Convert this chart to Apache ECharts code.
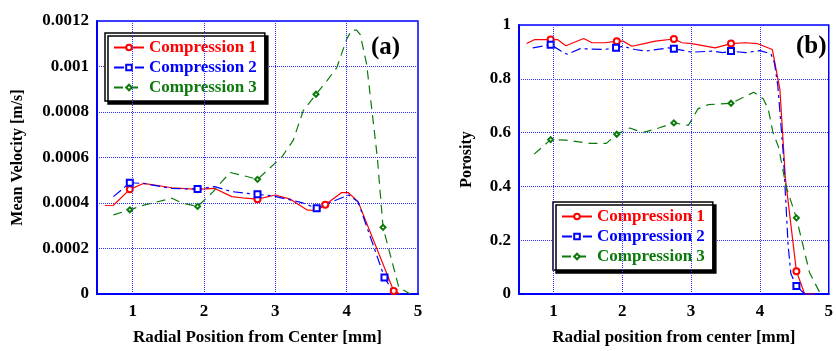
<!DOCTYPE html>
<html>
<head>
<meta charset="utf-8">
<script src="https://cdn.jsdelivr.net/npm/echarts@6/dist/echarts.min.js"></script>
<style>
  html, body { margin: 0; padding: 0; background: #fff; }
  #chart { width: 836px; height: 351px; }
</style>
</head>
<body>
<div id="chart"></div>
<script>
// panel (a): mean velocity vs radial position
const velX1 = [0.61, 0.73, 0.96, 1.15, 1.55, 1.91, 2.15, 2.39, 2.58, 2.75, 3.00, 3.21, 3.44, 3.58, 3.70, 3.93, 4.02, 4.16, 4.66, 4.75]
const velY1 = [0.000389, 0.00039, 0.00046, 0.000486, 0.000467, 0.00046, 0.000464, 0.000428, 0.000421, 0.000417, 0.000435, 0.000417, 0.00037, 0.000366, 0.000392, 0.000446, 0.000446, 0.000406, 0.000013, 0]
const velMark1 = [2, 5, 9, 14, 18]

const velX2 = [0.73, 0.96, 1.15, 1.55, 1.91, 2.15, 2.39, 2.58, 2.75, 2.97, 3.37, 3.58, 3.74, 4.03, 4.16, 4.53, 4.66]
const velY2 = [0.000428, 0.000489, 0.000486, 0.000464, 0.000461, 0.000472, 0.00045, 0.000443, 0.000438, 0.000431, 0.000402, 0.000377, 0.000399, 0.000435, 0.000405, 0.000073, 0.000003]
const velMark2 = [1, 4, 8, 11, 15]

const velX3 = [0.73, 0.96, 1.17, 1.55, 1.69, 1.91, 2.13, 2.25, 2.37, 2.53, 2.75, 3.09, 3.25, 3.39, 3.57, 3.72, 3.86, 4.00, 4.07, 4.14, 4.19, 4.28, 4.43, 4.51, 4.73, 4.89]
const velY3 = [0.000348, 0.00037, 0.000392, 0.000421, 0.0004, 0.000385, 0.00045, 0.000494, 0.000534, 0.000522, 0.000504, 0.000602, 0.000675, 0.000805, 0.000878, 0.000936, 0.000994, 0.00112, 0.00116, 0.00116, 0.00114, 0.00101, 0.0006, 0.000293, 0.00003, 0]
const velMark3 = [1, 5, 10, 14, 23]

// panel (b): porosity vs radial position
const porX1 = [0.61, 0.73, 0.96, 1.06, 1.18, 1.44, 1.56, 1.75, 1.92, 2.01, 2.14, 2.32, 2.48, 2.75, 2.87, 3.01, 3.35, 3.58, 3.79, 3.96, 4.18, 4.29, 4.37, 4.53, 4.65, 4.80]
const porY1 = [0.931, 0.946, 0.946, 0.946, 0.923, 0.95, 0.934, 0.934, 0.94, 0.94, 0.921, 0.931, 0.94, 0.948, 0.934, 0.931, 0.915, 0.931, 0.934, 0.931, 0.909, 0.762, 0.43, 0.085, 0, 0]
const porMark1 = [2, 8, 13, 17, 23]

const porX2 = [0.70, 0.96, 1.11, 1.20, 1.39, 1.73, 1.91, 2.01, 2.18, 2.34, 2.67, 2.75, 3.01, 3.32, 3.46, 3.58, 3.79, 4.00, 4.16, 4.21, 4.26, 4.34, 4.41, 4.45, 4.53, 4.65]
const porY2 = [0.915, 0.927, 0.903, 0.891, 0.912, 0.909, 0.915, 0.921, 0.909, 0.903, 0.915, 0.912, 0.899, 0.903, 0.897, 0.903, 0.897, 0.905, 0.893, 0.86, 0.774, 0.52, 0.18, 0.075, 0.03, 0]
const porMark2 = [1, 6, 11, 15, 24]

const porX3 = [0.72, 0.96, 1.18, 1.54, 1.77, 1.92, 2.11, 2.30, 2.53, 2.75, 2.96, 3.10, 3.25, 3.58, 3.91, 4.05, 4.12, 4.19, 4.27, 4.38, 4.53, 4.72, 4.88]
const porY3 = [0.52, 0.574, 0.572, 0.56, 0.56, 0.594, 0.617, 0.60, 0.617, 0.636, 0.627, 0.688, 0.704, 0.709, 0.75, 0.725, 0.688, 0.60, 0.547, 0.40, 0.283, 0.08, 0]
const porMark3 = [1, 5, 9, 13, 20]

const xTicks = [1, 2, 3, 4]
const names = ['Compression 1', 'Compression 2', 'Compression 3']

const red = '#ff0000'
const blue = '#0000ff'
const green = '#0b7a0b'
const gridBlue = '#2f2fff'
const font = 'Liberation Serif, Times New Roman, serif'

function pts(xs, ys, marks) {
  return xs.map(function(x, i) {
    const item = { value: [x, ys[i]] }
    if (marks.indexOf(i) < 0) item.symbol = 'none'
    return item
  })
}

function xAxisFor(idx, title) {
  return {
    type: 'value',
    gridIndex: idx,
    min: 0.5,
    max: 5,
    interval: 0.5,
    name: title,
    nameLocation: 'middle',
    nameGap: 35,
    nameTextStyle: { fontFamily: font, fontWeight: 'bold', fontSize: 17, color: '#000' },
    axisLine: { lineStyle: { color: blue, width: 2 } },
    axisTick: { show: false },
    splitLine: { show: false },
    axisLabel: {
      margin: 9,
      fontFamily: font, fontWeight: 'bold', fontSize: 17, color: '#000',
      formatter: function(v) { return Number.isInteger(v) ? String(v) : '' }
    }
  }
}

function yAxisFor(idx, title, max, step, gap) {
  return {
    type: 'value',
    gridIndex: idx,
    min: 0,
    max: max,
    interval: step,
    name: title,
    nameLocation: 'middle',
    nameGap: gap,
    nameTextStyle: { fontFamily: font, fontWeight: 'bold', fontSize: 16, color: '#000' },
    axisLine: { show: true, lineStyle: { color: blue, width: 2 } },
    axisTick: { show: false },
    splitLine: { lineStyle: { color: gridBlue, type: 'dotted', width: 1 } },
    axisLabel: { margin: 8, fontFamily: font, fontWeight: 'bold', fontSize: 17, color: '#000' }
  }
}

function vLines() {
  return {
    silent: true,
    symbol: ['none', 'none'],
    label: { show: false },
    lineStyle: { color: gridBlue, type: 'dotted', width: 1 },
    data: xTicks.map(function(v) { return { xAxis: v } })
  }
}

function line(name, idx, data, color, symbol, size, dash, withGrid) {
  const s = {
    name: name,
    type: 'line',
    xAxisIndex: idx,
    yAxisIndex: idx,
    data: data,
    symbol: symbol,
    symbolSize: size,
    showSymbol: true,
    animation: false,
    color: color,
    itemStyle: { color: color, borderColor: color, borderWidth: 1 },
    lineStyle: { color: color, width: 1.2, type: dash }
  }
  if (withGrid) s.markLine = vLines()
  return s
}

function legendFor(left, top) {
  return {
    orient: 'vertical',
    left: left,
    top: top,
    itemWidth: 30,
    itemHeight: 7,
    itemGap: 3,
    padding: [6, 8, 5, 8],
    backgroundColor: '#fff',
    borderColor: '#000',
    borderWidth: 1.5,
    borderRadius: 0,
    shadowColor: '#000',
    shadowBlur: 0,
    shadowOffsetX: 3,
    shadowOffsetY: 3,
    selectedMode: false,
    textStyle: { fontFamily: font, fontWeight: 'bold', fontSize: 17 },
    data: [
      { name: names[0], textStyle: { color: red } },
      { name: names[1], textStyle: { color: blue } },
      { name: names[2], textStyle: { color: green } }
    ]
  }
}

const dash2 = [10, 4, 3, 4]
const dash3 = [9, 6]

const myChart = echarts.init(document.getElementById('chart'))
const option = {
  backgroundColor: '#fff',
  animation: false,
  grid: [
    { left: 97, right: 418, top: 21, bottom: 54, show: true, borderColor: blue, borderWidth: 1.5, backgroundColor: 'transparent' },
    { left: 519, right: 1, top: 25, bottom: 54, show: true, borderColor: blue, borderWidth: 1.5, backgroundColor: 'transparent' }
  ],
  legend: [legendFor(105, 33), legendFor(553, 202)],
  xAxis: [
    xAxisFor(0, 'Radial Position from Center [mm]'),
    xAxisFor(1, 'Radial position from center [mm]')
  ],
  yAxis: [
    yAxisFor(0, 'Mean Velocity [m/s]', 0.0012, 0.0002, 71),
    yAxisFor(1, 'Porosity', 1, 0.2, 44)
  ],
  graphic: [
    { type: 'text', left: 371, top: 35, style: { text: '(a)', font: 'bold 25px ' + font, fill: '#000' } },
    { type: 'text', left: 796, top: 34, style: { text: '(b)', font: 'bold 25px ' + font, fill: '#000' } }
  ],
  series: [
    line(names[0], 0, pts(velX1, velY1, velMark1), red, 'emptyCircle', 6, 'solid', true),
    line(names[1], 0, pts(velX2, velY2, velMark2), blue, 'emptyRect', 6, dash2, false),
    line(names[2], 0, pts(velX3, velY3, velMark3), green, 'emptyDiamond', 5, dash3, false),
    line(names[0], 1, pts(porX1, porY1, porMark1), red, 'emptyCircle', 6, 'solid', true),
    line(names[1], 1, pts(porX2, porY2, porMark2), blue, 'emptyRect', 6, dash2, false),
    line(names[2], 1, pts(porX3, porY3, porMark3), green, 'emptyDiamond', 5, dash3, false)
  ]
}
myChart.setOption(option)
</script>
</body>
</html>
